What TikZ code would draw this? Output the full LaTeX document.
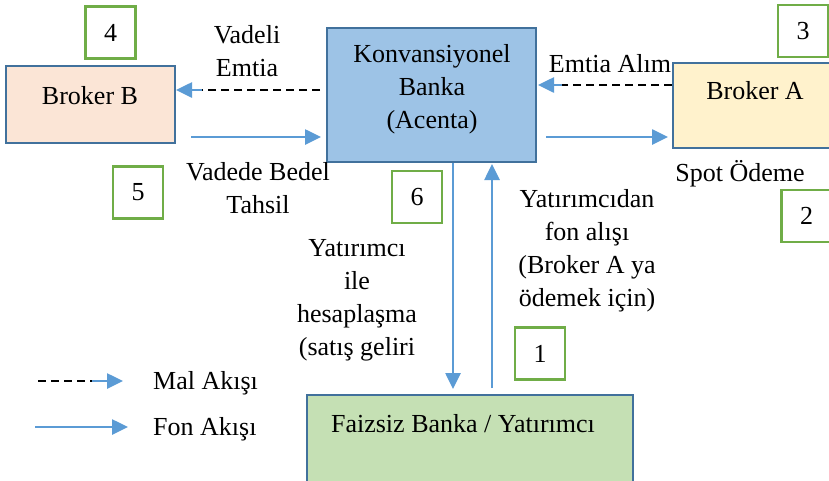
\documentclass[tikz,border=0pt]{standalone}
\usepackage{fontspec}
\setmainfont{Liberation Serif}
\usetikzlibrary{arrows.meta}
\definecolor{boxborder}{HTML}{41719C}
\definecolor{konvfill}{HTML}{9DC3E6}
\definecolor{bbfill}{HTML}{FBE5D6}
\definecolor{bafill}{HTML}{FFF2CC}
\definecolor{fzfill}{HTML}{C5E0B4}
\definecolor{numgreen}{HTML}{70AD47}
\definecolor{flowblue}{HTML}{5B9BD5}
\tikzset{
  mainbox/.style={draw=boxborder, line width=2.6pt, rectangle, inner sep=0pt},
  numbox/.style={draw=numgreen, line width=2.8pt, fill=white, rectangle, inner sep=0pt, minimum width=50pt, minimum height=52pt},
  lbl/.style={align=center, inner sep=0pt, font=\fontsize{26}{33}\selectfont},
  fon/.style={draw=flowblue, line width=2.6pt, -{Triangle[length=16pt,width=15pt]}},
  mal/.style={draw=black, line width=1.8pt, dash pattern=on 8pt off 5pt},
  malhead/.style={draw=flowblue, line width=2.6pt, -{Triangle[length=16pt,width=15pt]}},
}
\begin{document}
\begin{tikzpicture}[x=1pt,y=-1pt]
\clip (0,0) rectangle (829,480);
\fill[white] (0,0) rectangle (829,480);

% main boxes
\node[mainbox, fill=bbfill, minimum width=169pt, minimum height=77pt] (bb) at (90.5,104.5) {};
\node[mainbox, fill=konvfill, minimum width=209pt, minimum height=134pt] (kb) at (431.5,95) {};
\node[mainbox, fill=bafill, minimum width=200pt, minimum height=85pt] (ba) at (773,105.5) {};
\node[mainbox, fill=fzfill, minimum width=326pt, minimum height=120pt] (fz) at (470,455) {};

% box texts
\node[lbl] (bbt) at (90,96) {Broker B};
\node[lbl] (kbt) at (432,89) {Konvansiyonel\\Banka\\(Acenta)};
\node[lbl] (bat) at (755,91) {Broker A};
\node[lbl] (fzt) at (463,424) {Faizsiz Banka / Yatırımcı};

% number boxes
\node[numbox] (n4) at (110.5,32.5) {\fontsize{26}{33}\selectfont 4};
\node[numbox] (n5) at (138,192.5) {\fontsize{26}{33}\selectfont 5};
\node[numbox] (n6) at (417,197) {\fontsize{26}{33}\selectfont 6};
\node[numbox] (n1) at (540,353.5) {\fontsize{26}{33}\selectfont 1};
\node[numbox] (n3) at (803,31) {\fontsize{26}{33}\selectfont 3};
\node[numbox] (n2) at (806.5,216) {\fontsize{26}{33}\selectfont 2};

% flow labels
\node[lbl] (l4) at (247,51) {Vadeli\\Emtia};
\node[lbl] (l5) at (258,188) {Vadede Bedel\\Tahsil};
\node[lbl] (l3) at (610,64) {Emtia Alım};
\node[lbl] (l2) at (740,174) {Spot Ödeme};
\node[lbl] (l6) at (357,300) {Yatırımcı\\ile\\hesaplaşma\\(satış geliri};
\node[lbl] (l1) at (587,251) {Yatırımcıdan\\fon alışı\\(Broker A ya\\ödemek için)};

% connector coordinates
\coordinate (k-w-top) at (320,90);
\coordinate (k-w-mid) at (202,90);
\coordinate (bb-e-top) at (176,90);
\coordinate (bb-e-bot) at (191,137);
\coordinate (k-w-bot) at (321,137);
\coordinate (ba-w-top) at (672,85);
\coordinate (k-e-mid) at (562,85);
\coordinate (k-e-top) at (538,85);
\coordinate (k-e-bot) at (546,137);
\coordinate (ba-w-bot) at (668,137);
\coordinate (k-s-l) at (453,163);
\coordinate (fz-n-l) at (453,389);
\coordinate (fz-n-r) at (492,388);
\coordinate (k-s-r) at (492,164);

% connectors
\draw[mal] (k-w-top) -- (k-w-mid);
\draw[malhead] (k-w-mid) -- (bb-e-top);
\draw[fon] (bb-e-bot) -- (k-w-bot);
\draw[mal] (ba-w-top) -- (k-e-mid);
\draw[malhead] (k-e-mid) -- (k-e-top);
\draw[fon] (k-e-bot) -- (ba-w-bot);
\draw[fon] (k-s-l) -- (fz-n-l);
\draw[fon] (fz-n-r) -- (k-s-r);

% legend
\coordinate (lg1a) at (38,381);
\coordinate (lg1b) at (92,381);
\coordinate (lg1c) at (123,381);
\coordinate (lg2a) at (35,427);
\coordinate (lg2b) at (128,427);
\draw[mal] (lg1a) -- (lg1b);
\draw[malhead] (lg1b) -- (lg1c);
\draw[fon] (lg2a) -- (lg2b);
\node[lbl, anchor=west] (lgt1) at (153,383) {Mal Akışı};
\node[lbl, anchor=west] (lgt2) at (153,429) {Fon Akışı};
\end{tikzpicture}
\end{document}
